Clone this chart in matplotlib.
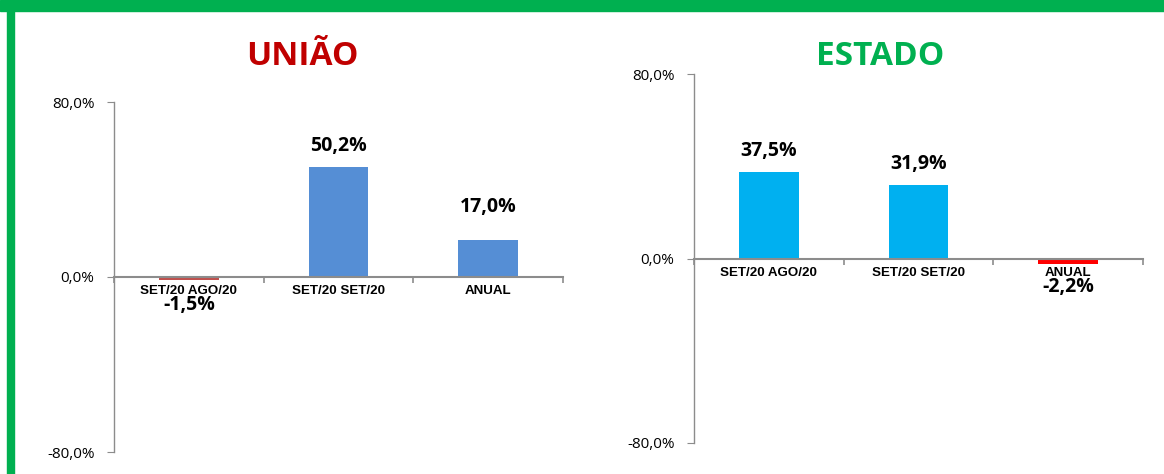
import matplotlib
matplotlib.use('Agg')
import matplotlib.pyplot as plt
from matplotlib.patches import Rectangle

# dados dos dois painéis
categorias_uniao = ['SET/20 AGO/20', 'SET/20 SET/20', 'ANUAL']
valores_uniao = [-1.5, 50.2, 17.0]
categorias_estado = ['SET/20 AGO/20', 'SET/20 SET/20', 'ANUAL']
valores_estado = [37.5, 31.9, -2.2]
yticks = [-80, 0, 80]

W, H = 1164, 474
fig = plt.figure(figsize=(W / 100, H / 100), dpi=100)
fig.patch.set_facecolor('white')

# moldura verde (topo e lado esquerdo)
fig.patches.append(Rectangle((0, 1 - 11 / H), 1, 11 / H, transform=fig.transFigure,
                             color='#00B050', zorder=0))
fig.patches.append(Rectangle((7 / W, 0), 7 / W, 1, transform=fig.transFigure,
                             color='#00B050', zorder=0))

gray = '#8C8C8C'


def fmt(v):
    return ('%.1f%%' % v).replace('.', ',')


def painel(rect, cats, vals, cor_pos, cor_neg, offs_pos, off_neg):
    ax = fig.add_axes(rect)
    x = list(range(len(cats)))
    cores = [cor_pos if v >= 0 else cor_neg for v in vals]
    ax.bar(x, vals, width=0.4, color=cores, zorder=2)
    ax.set_xlim(-0.5, len(cats) - 0.5)
    ax.set_ylim(-80, 80)
    for s in ['top', 'right']:
        ax.spines[s].set_visible(False)
    ax.spines['bottom'].set_position(('data', 0))
    ax.spines['bottom'].set_color(gray)
    ax.spines['left'].set_color(gray)
    ax.spines['bottom'].set_linewidth(1.5)
    ax.spines['left'].set_linewidth(1.0)
    ax.set_xticks([i - 0.5 for i in range(len(cats) + 1)])
    ax.set_xticklabels([])
    ax.tick_params(axis='x', length=4, color=gray, width=1.2)
    ax.set_yticks(yticks)
    ax.set_yticklabels([fmt(t) for t in yticks], fontfamily='Open Sans', fontsize=11)
    ax.tick_params(axis='y', length=5, color=gray, pad=9)
    for i, c in enumerate(cats):
        ax.annotate(c, (i, 0), xytext=(0, -8), textcoords='offset pixels',
                    ha='center', va='top', fontfamily='Liberation Sans',
                    fontweight='bold', fontsize=9.6, zorder=3)
    for i, v in enumerate(vals):
        if v >= 0:
            ax.annotate(fmt(v), (i, v), xytext=(0, offs_pos[i]), textcoords='offset pixels',
                        ha='center', va='bottom', fontfamily='Open Sans',
                        fontweight='bold', fontsize=14)
        else:
            ax.annotate(fmt(v), (i, v), xytext=(0, off_neg), textcoords='offset pixels',
                        ha='center', va='top', fontfamily='Open Sans',
                        fontweight='bold', fontsize=14, zorder=4)
    return ax


painel([114 / W, (H - 452) / H, 449 / W, 350 / H], categorias_uniao, valores_uniao,
       '#558ED5', '#C0504D', [0, 11, 23], -15)
painel([694 / W, (H - 443) / H, 449 / W, 369 / H], categorias_estado, valores_estado,
       '#00B0F0', '#FF0000', [11, 11, 0], -13)

fig.text(302 / W, (H - 65) / H, 'UNIÃO', ha='center', va='baseline', color='#C00000',
         fontfamily='Open Sans', fontweight='bold', fontsize=24)
fig.text(880 / W, (H - 65) / H, 'ESTADO', ha='center', va='baseline', color='#00B050',
         fontfamily='Open Sans', fontweight='bold', fontsize=24)

fig.savefig('out.png', dpi=100)
